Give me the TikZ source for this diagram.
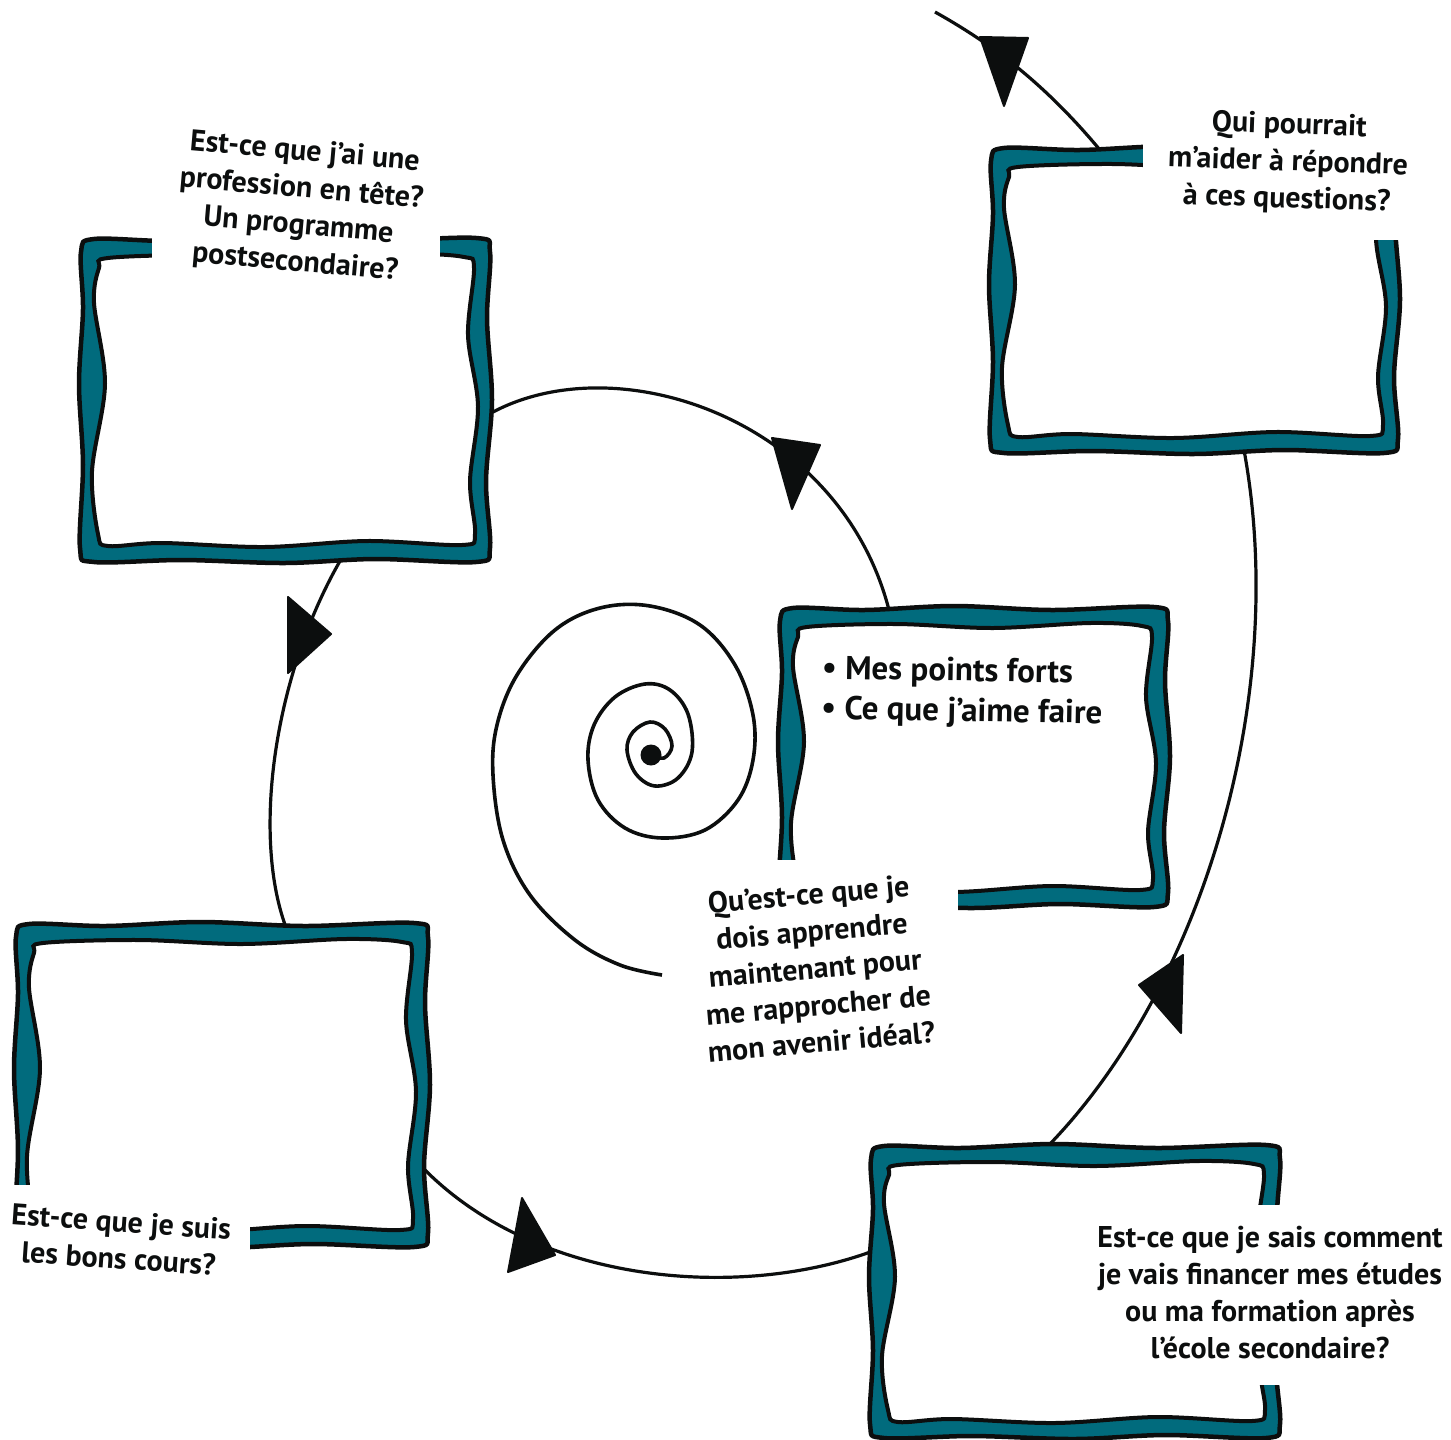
\documentclass[tikz,border=0pt]{standalone}
\usepackage{fontspec}
\setmainfont{PT Sans}
\definecolor{teal1}{RGB}{1,107,125}
\definecolor{ink}{RGB}{12,14,14}
\newcommand\wframe[4]{%
  \filldraw[frameout] plot[smooth cycle, tension=0.55] coordinates {
    ({#1+14},{#2+1}) ({#1+0.22*(#3-#1)},{#2+3}) ({#1+0.45*(#3-#1)},{#2-1})
    ({#1+0.7*(#3-#1)},{#2+3}) ({#3-14},{#2}) ({#3},{#2+14})
    ({#3-3},{#2+0.25*(#4-#2)}) ({#3+2},{#2+0.5*(#4-#2)}) ({#3-4},{#2+0.75*(#4-#2)})
    ({#3},{#4-14}) ({#3-14},{#4}) ({#1+0.72*(#3-#1)},{#4-3})
    ({#1+0.5*(#3-#1)},{#4+1}) ({#1+0.25*(#3-#1)},{#4-2}) ({#1+14},{#4})
    ({#1},{#4-14}) ({#1+3},{#2+0.7*(#4-#2)}) ({#1-1},{#2+0.45*(#4-#2)})
    ({#1+3},{#2+0.22*(#4-#2)}) ({#1+1},{#2+14})};
  \filldraw[framein] plot[smooth cycle, tension=0.55] coordinates {
    ({#1+28},{#2+20}) ({#1+0.3*(#3-#1)},{#2+17}) ({#1+0.55*(#3-#1)},{#2+21})
    ({#1+0.8*(#3-#1)},{#2+16}) ({#3-26},{#2+19}) ({#3-16},{#2+30})
    ({#3-22},{#2+0.3*(#4-#2)}) ({#3-12},{#2+0.52*(#4-#2)}) ({#3-20},{#2+0.75*(#4-#2)})
    ({#3-15},{#4-28}) ({#3-28},{#4-17}) ({#1+0.7*(#3-#1)},{#4-21})
    ({#1+0.45*(#3-#1)},{#4-15}) ({#1+0.2*(#3-#1)},{#4-19}) ({#1+28},{#4-16})
    ({#1+18},{#4-28}) ({#1+12},{#2+0.72*(#4-#2)}) ({#1+25},{#2+0.45*(#4-#2)})
    ({#1+14},{#2+0.2*(#4-#2)}) ({#1+19},{#2+30})};
}
\begin{document}
\begin{tikzpicture}[x=1pt,y=-1pt,
  frameout/.style={fill=teal1,draw=ink,line width=4.5pt},
  framein/.style={fill=white,draw=ink,line width=4pt},
  link/.style={draw=ink,line width=3.2pt},
  tri/.style={fill=ink,draw=ink,line width=2pt,line join=round},
  hand/.style={font=\fontsize{30}{37}\selectfont\bfseries,align=center,text=ink,inner sep=0pt},
  gap/.style={fill=white,draw=none}]
\useasboundingbox (0,0) rectangle (1451,1440);
% connection points
\coordinate (tlR) at (493,412);
\coordinate (tlB) at (340,561);
\coordinate (mrT) at (889,610);
\coordinate (blT) at (287,930);
\coordinate (blR) at (425,1170);
\coordinate (brL) at (873,1251);
\coordinate (brT) at (1048,1146);
\coordinate (trB) at (1244,450);
\coordinate (trT) at (1100,150);
\coordinate (topend) at (935,12);
% connectors
\draw[link] (tlR) .. controls (620,345) and (840,420) .. (mrT);
\draw[link] (tlB) .. controls (272,680) and (252,840) .. (blT);
\draw[link] (blR) .. controls (540,1285) and (740,1300) .. (brL);
\draw[link] (brT) .. controls (1200,990) and (1290,700) .. (trB);
\draw[link] (trT) .. controls (1040,78) and (985,40) .. (topend);
% spiral
\draw[link,line width=3.6pt,line join=round] plot[smooth, tension=0.6] coordinates {
 (651,755) (664,758) (672,746) (665,729) (650,722) (633,732) (627,750) (636,774)
 (655,786) (678,778) (692,752) (688,714) (670,690) (645,684) (615,697) (594,725)
 (588,760) (598,800) (625,828) (662,838) (705,830) (738,800) (753,760) (753,715)
 (735,665) (700,625) (650,606) (600,608) (555,630) (517,675) (497,725) (493,775)
 (503,840) (530,895) (575,940) (620,965) (662,975)};
\fill[ink] (651,755) circle (10.5);
% frames
\wframe{80}{238}{490}{562}
\wframe{990}{147}{1398}{453}
\wframe{779}{607}{1168}{907}
\wframe{15}{923}{428}{1247}
\wframe{870}{1145}{1280}{1438}
% gaps for texts
\fill[gap] (152,215) rectangle (440,280);
\fill[gap] (1143,120) rectangle (1420,240);
\fill[gap] (765,860) rectangle (958,930);
\fill[gap] (0,1185) rectangle (250,1265);
\fill[gap] (1235,1205) rectangle (1300,1385);
% arrow triangles
\filldraw[tri] (772,438) -- (820,445) -- (792,509) -- cycle;
\filldraw[tri] (288,597) -- (331,634) -- (288,673) -- cycle;
\filldraw[tri] (522,1198) -- (555,1255) -- (508,1272) -- cycle;
\filldraw[tri] (1183,955) -- (1181,1033) -- (1139,985) -- cycle;
\filldraw[tri] (980,37) -- (1028,38) -- (1004,106) -- cycle;
% texts
\node[hand,rotate=-5] (ttl) at (300,208) {Est-ce que j’ai une\\profession en tête?\\Un programme\\postsecondaire?};
\node[hand,rotate=-2] (ttr) at (1288,163) {Qui pourrait\\m’aider à répondre\\à ces questions?};
\node[hand,font=\fontsize{33}{40}\selectfont\bfseries,align=left,anchor=north west,rotate=-1] (tmr) at (822,655) {• Mes points forts\\• Ce que j’aime faire};
\node[hand,rotate=5] (tc) at (815,968) {Qu’est-ce que je\\dois apprendre\\maintenant pour\\me rapprocher de\\mon avenir idéal?};
\node[hand,rotate=-4] (tbl) at (120,1240) {Est-ce que je suis\\les bons cours?};
\node[hand] (tbr) at (1270,1293) {Est-ce que je sais comment\\je vais financer mes études\\ou ma formation après\\l’école secondaire?};
\end{tikzpicture}
\end{document}
